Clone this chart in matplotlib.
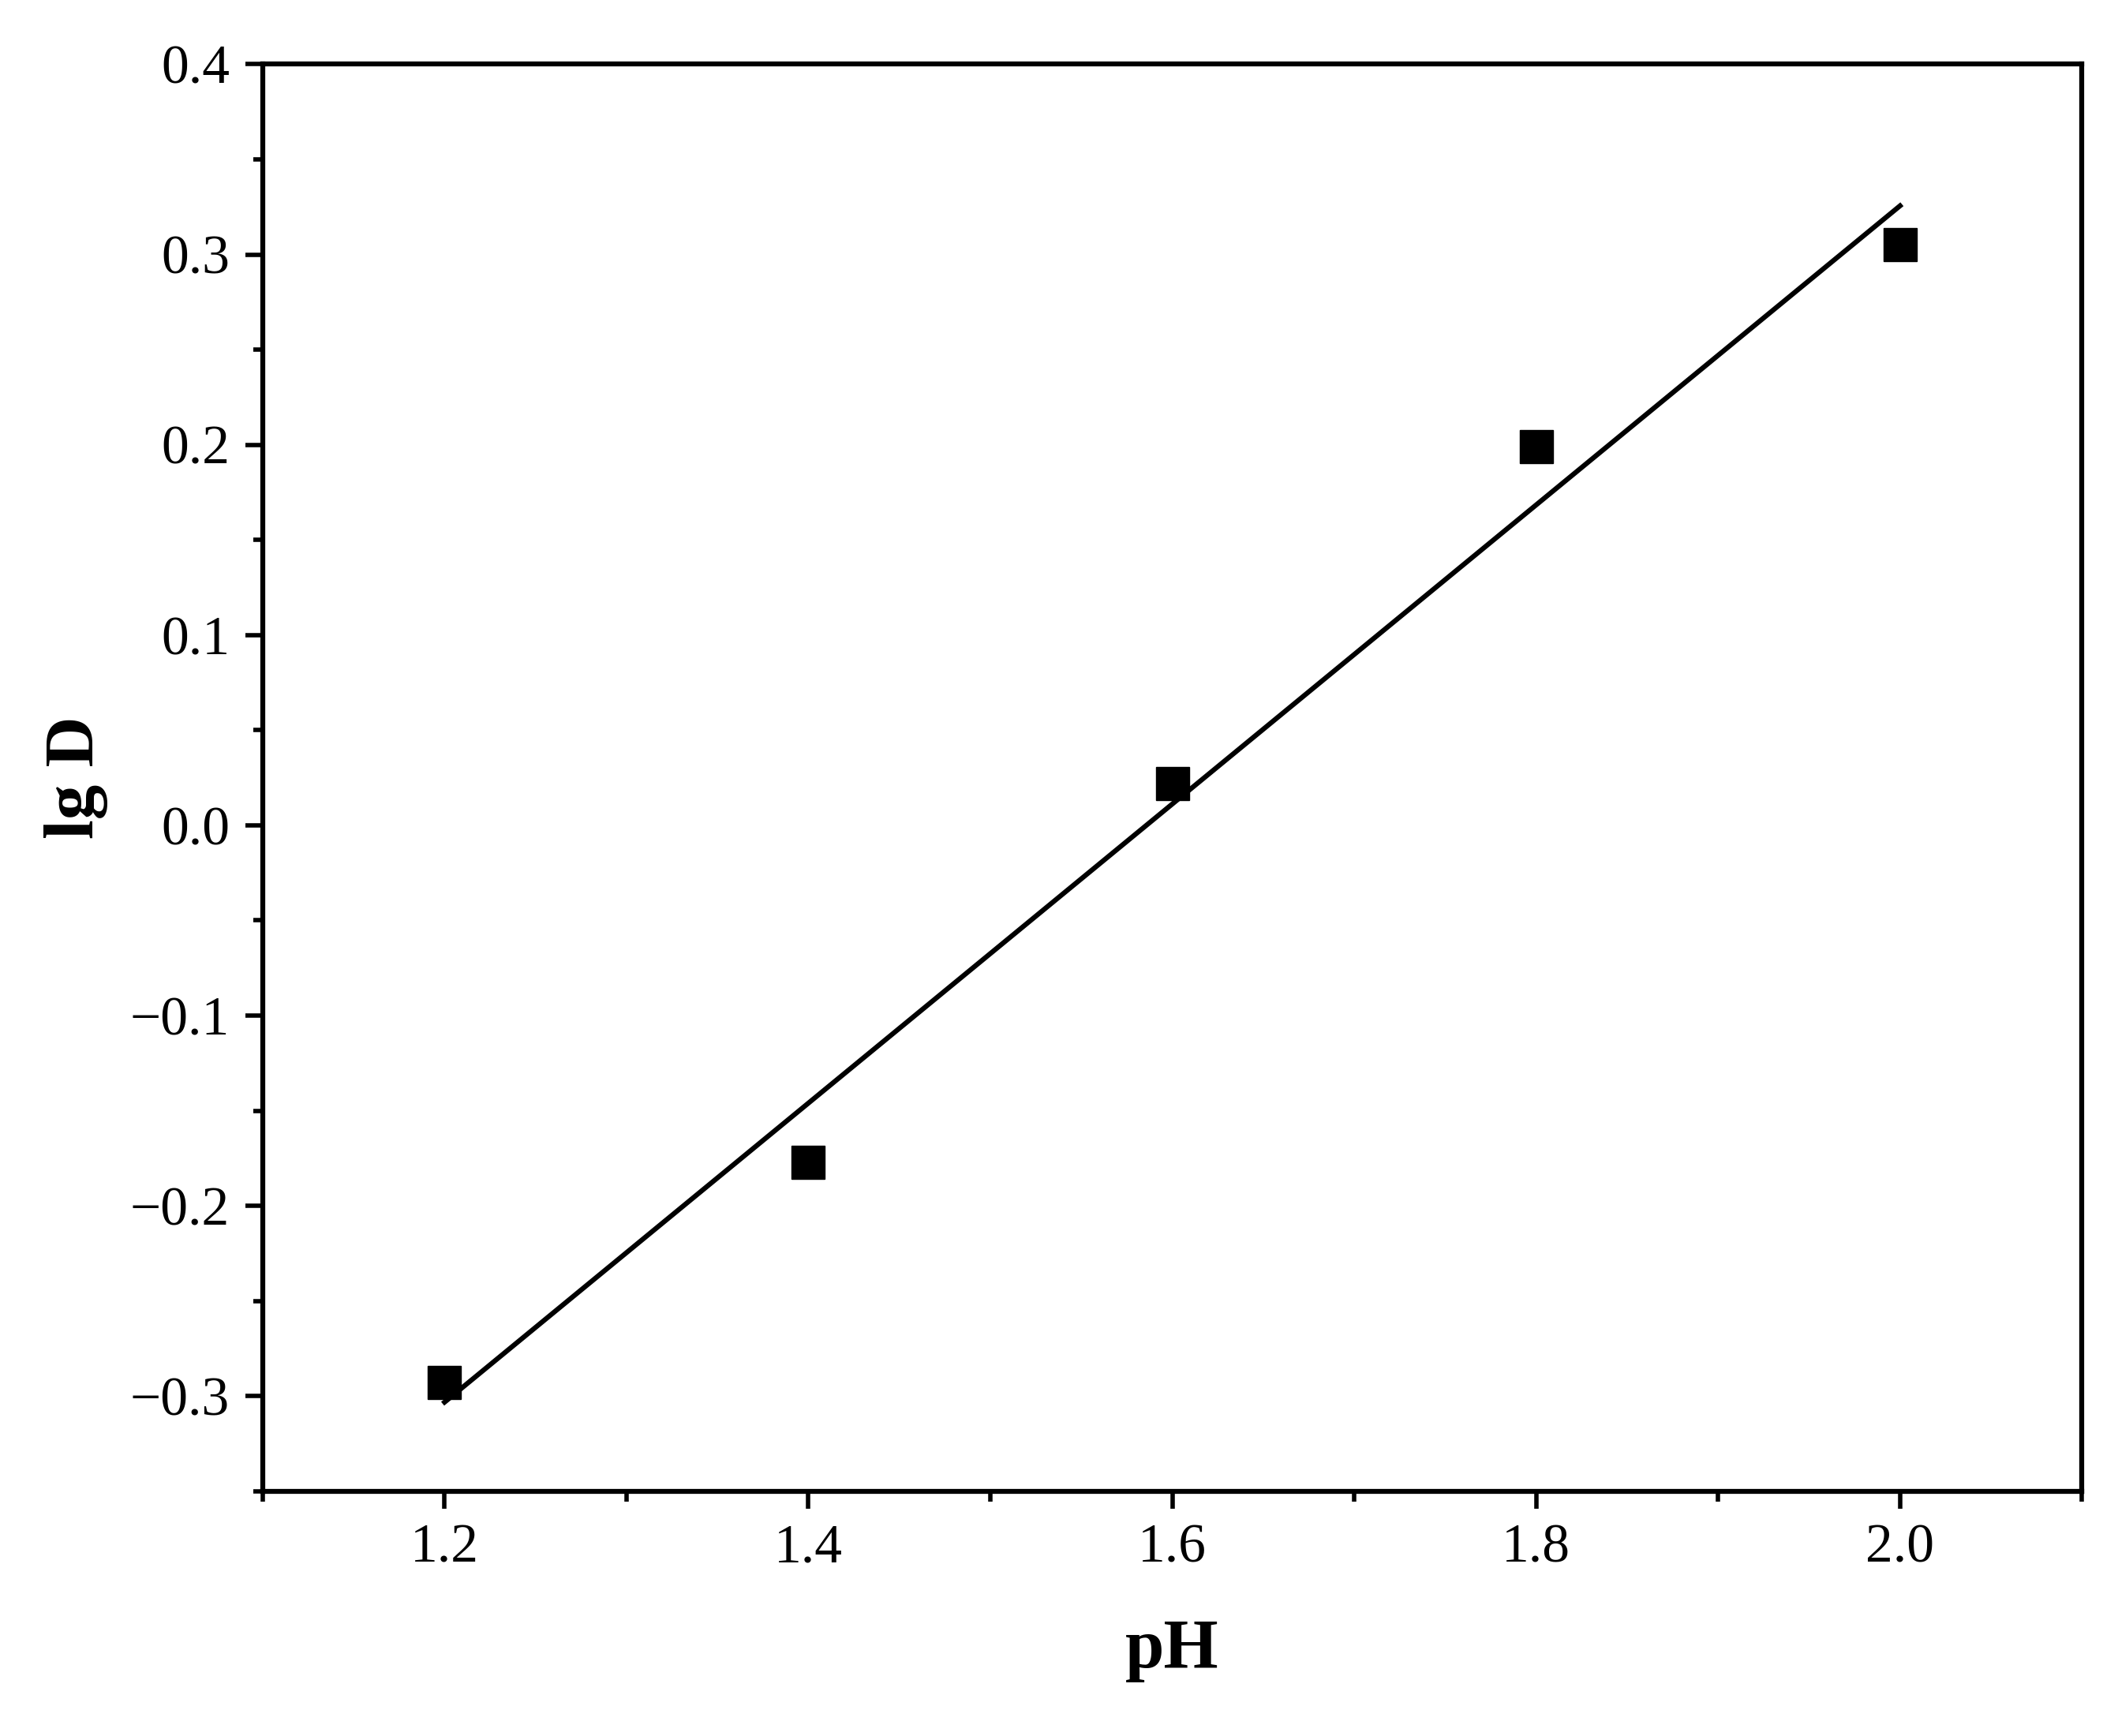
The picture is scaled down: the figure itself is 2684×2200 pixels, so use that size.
import numpy as np
import matplotlib
matplotlib.use("Agg")
import matplotlib.pyplot as plt
from matplotlib.ticker import MultipleLocator

ph = [1.2, 1.4, 1.6, 1.8, 2.0]
lgd = [-0.293, -0.177, 0.022, 0.199, 0.305]

plt.rcParams['font.family'] = ['Liberation Serif', 'DejaVu Serif']
fig = plt.figure(figsize=(26.84, 22), dpi=100)
ax = fig.add_axes([0.124, 0.141, 0.859, 0.822])
k, b = np.polyfit(ph, lgd, 1)
xs = np.array([ph[0], ph[-1]])
ax.plot(xs, k*xs+b, color='black', lw=4.5)
ax.plot(ph, lgd, 's', color='black', ms=30)
ax.set_xlim(1.1, 2.1)
ax.set_ylim(-0.35, 0.4)
ax.xaxis.set_major_locator(MultipleLocator(0.2))
ax.xaxis.set_minor_locator(MultipleLocator(0.1))
ax.yaxis.set_major_locator(MultipleLocator(0.1))
ax.yaxis.set_minor_locator(MultipleLocator(0.05))
ax.xaxis.set_major_formatter(matplotlib.ticker.FormatStrFormatter('%.1f'))
ax.yaxis.set_major_formatter(matplotlib.ticker.FuncFormatter(lambda v, p: ('\u2212' if v < -1e-9 else '') + '%.1f' % abs(v)))
ax.tick_params(which='both', direction='out', width=4, labelsize=50, pad=14)
ax.tick_params(which='major', length=16)
ax.tick_params(which='minor', length=9)
for s in ax.spines.values():
    s.set_linewidth(4.5)
ax.set_xlabel('pH', fontsize=64, fontweight='bold', labelpad=40)
ax.set_ylabel('lg D', fontsize=64, fontweight='bold', labelpad=20)
fig.savefig('out.png', dpi=100)
